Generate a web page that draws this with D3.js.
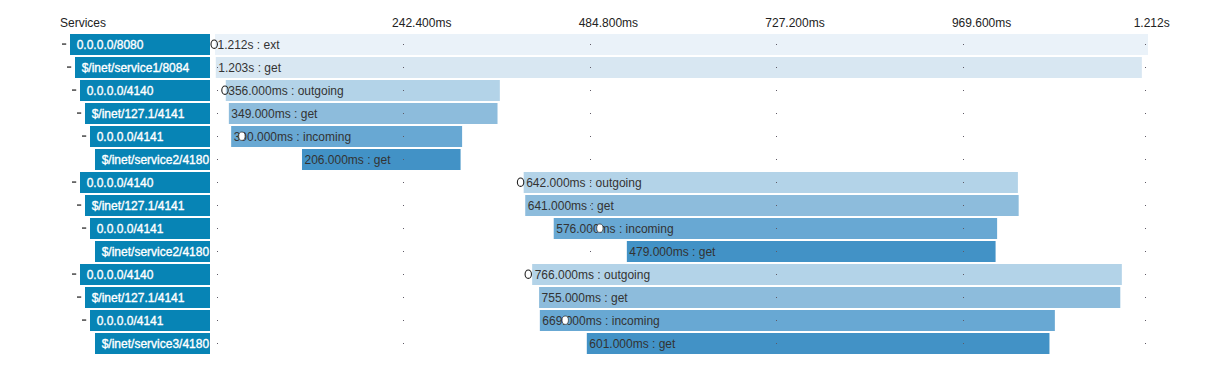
<!DOCTYPE html>
<html>
<head>
<meta charset="utf-8">
<script src="https://cdn.jsdelivr.net/npm/d3@7"></script>
<style>
  body { margin: 0; background: #fff; }
  svg { display: block; font-family: "Liberation Sans", Helvetica, Arial, sans-serif; }
</style>
</head>
<body>
<div id="trace"></div>
<script>
const FRAME_WIDTH = 1208;
const FRAME_HEIGHT = 383;

// span table, one entry per row
const services = ["0.0.0.0/8080", "$/inet/service1/8084", "0.0.0.0/4140", "$/inet/127.1/4141",
                  "0.0.0.0/4141", "$/inet/service2/4180", "0.0.0.0/4140", "$/inet/127.1/4141",
                  "0.0.0.0/4141", "$/inet/service2/4180", "0.0.0.0/4140", "$/inet/127.1/4141",
                  "0.0.0.0/4141", "$/inet/service3/4180"];
const depths = [0, 1, 2, 3, 4, 5, 2, 3, 4, 5, 2, 3, 4, 5];
const spanNames = ["ext", "get", "outgoing", "get", "incoming", "get", "outgoing", "get",
                   "incoming", "get", "outgoing", "get", "incoming", "get"];
const starts = [0, 1, 14, 18, 21, 113, 401, 403, 440, 535, 412, 421, 422, 483];      // ms
const durations = [1212, 1203, 356, 349, 300, 206, 642, 641, 576, 479, 766, 755, 669, 601]; // ms

// annotation markers
const annRows = [0, 2, 4, 6, 8, 10, 12];
const annTimes = [0, 14, 36, 398, 501, 408, 456];
const annFilled = [false, false, true, false, true, false, true];

// time axis
const tickValues = [0, 242.4, 484.8, 727.2, 969.6, 1212];
const tickLabels = ["", "242.400ms", "484.800ms", "727.200ms", "969.600ms", "1.212s"];

const TOTAL = 1212;
const LABEL_RIGHT = 210;
const INDENT = 5;
const depthColors = ["#eaf2f9", "#d8e7f2", "#b3d3e8", "#8dbcdc", "#68a8d3", "#4292c6"];

const svg = d3.select("#trace")
  .append("svg")
    .attr("width", FRAME_WIDTH)
    .attr("height", FRAME_HEIGHT);

const X_SCALE = d3.scaleLinear()
                  .domain([0, TOTAL])
                  .range([215, 1148]);

const Y_SCALE = d3.scaleBand()
                  .domain(d3.range(services.length))
                  .range([34, 354])
                  .paddingInner(2 / 23)
                  .paddingOuter(0);

const rows = services.map((s, i) => ({
  i: i, service: s, depth: depths[i], name: spanNames[i],
  start: starts[i], dur: durations[i]
}));

function fmtDur(ms) {
  return ms >= 1000 ? (ms / 1000).toFixed(3) + "s" : ms.toFixed(3) + "ms";
}

// header
svg.append("text")
  .attr("x", 60).attr("y", 27)
  .attr("font-size", "12px").attr("fill", "#222")
  .text("Services");

svg.selectAll(".tick-label")
  .data(tickValues.slice(1))
  .enter()
  .append("text")
    .attr("class", "tick-label")
    .attr("x", (d) => Math.min(X_SCALE(d) + 1.5, 1144.7) - 11)
    .attr("y", 27)
    .attr("font-size", "12px").attr("fill", "#222")
    .text((d, i) => tickLabels[i + 1]);

// span bars
svg.selectAll(".bar")
  .data(rows)
  .enter()
  .append("rect")
    .attr("class", "bar")
    .attr("x", (d) => X_SCALE(d.start))
    .attr("y", (d) => Y_SCALE(d.i))
    .attr("width", (d) => X_SCALE(d.start + d.dur) - X_SCALE(d.start))
    .attr("height", Y_SCALE.bandwidth())
    .attr("fill", (d) => depthColors[d.depth]);

// grid dots
const dots = [];
rows.forEach((r) => tickValues.forEach((t) => dots.push({ i: r.i, t: t })));
svg.selectAll(".grid-dot")
  .data(dots)
  .enter()
  .append("rect")
    .attr("class", "grid-dot")
    .attr("x", (d) => Math.round(Math.min(X_SCALE(d.t) + 1.5, 1144.7)))
    .attr("y", (d) => Y_SCALE(d.i) + 10)
    .attr("width", 1).attr("height", 1)
    .attr("fill", "#5f5a66");

// service label boxes
svg.selectAll(".svc-box")
  .data(rows)
  .enter()
  .append("rect")
    .attr("class", "svc-box")
    .attr("x", (d) => 70 + d.depth * INDENT)
    .attr("y", (d) => Y_SCALE(d.i))
    .attr("width", (d) => LABEL_RIGHT - 70 - d.depth * INDENT)
    .attr("height", Y_SCALE.bandwidth())
    .attr("fill", "#0784b5");

svg.selectAll(".svc-label")
  .data(rows)
  .enter()
  .append("text")
    .attr("class", "svc-label")
    .attr("x", (d) => 76.7 + d.depth * INDENT)
    .attr("y", (d) => Y_SCALE(d.i) + 14.5)
    .attr("font-size", "12px")
    .attr("fill", "#fff")
    .attr("stroke", "#fff").attr("stroke-width", 0.35)
    .text((d) => d.service);

// collapse toggles for rows that have children
svg.selectAll(".toggle")
  .data(rows.filter((d) => d.depth < 5))
  .enter()
  .append("rect")
    .attr("class", "toggle")
    .attr("x", (d) => 62 + d.depth * INDENT)
    .attr("y", (d) => Y_SCALE(d.i) + 9.2)
    .attr("width", 4.2).attr("height", 1.8)
    .attr("fill", "#666");

// span labels
svg.selectAll(".span-label")
  .data(rows)
  .enter()
  .append("text")
    .attr("class", "span-label")
    .attr("x", (d) => X_SCALE(d.start) + 2.5)
    .attr("y", (d) => Y_SCALE(d.i) + 14.5)
    .attr("font-size", "12px").attr("fill", "#333")
    .text((d) => fmtDur(d.dur) + " : " + d.name);

// annotations
svg.selectAll(".annotation")
  .data(annRows.map((r, k) => ({ i: r, t: annTimes[k], filled: annFilled[k] })))
  .enter()
  .append("ellipse")
    .attr("class", "annotation")
    .attr("cx", (d) => X_SCALE(d.t) - 0.8)
    .attr("cy", (d) => Y_SCALE(d.i) + 10.2)
    .attr("rx", 3.2)
    .attr("ry", 4.2)
    .attr("fill", (d) => d.filled ? "#fff" : "none")
    .attr("stroke", "#222")
    .attr("stroke-width", (d) => d.filled ? 0.7 : 1.1);
</script>
</body>
</html>
